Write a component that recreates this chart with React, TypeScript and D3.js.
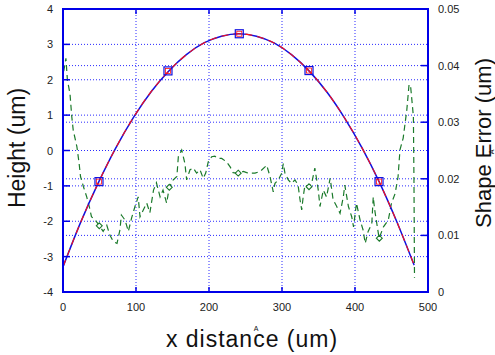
import React, { useEffect, useRef } from 'react';
import * as d3 from 'd3';

// fitted profile (Height, left axis)
const fitX = [0, 24, 48, 72, 97, 121, 145, 169, 193, 217, 241, 265, 289, 313, 338, 362, 386, 410, 433, 457, 481];
const fitY = [-3.29, -2.04, -0.93, 0.06, 0.95, 1.67, 2.25, 2.71, 3.04, 3.23, 3.3, 3.23, 3.04, 2.71, 2.23, 1.64, 0.91, 0.06, -0.88, -2.0, -3.24];
const fitMarkX = [49.3, 143.8, 241.5, 337, 432.9];
const fitMarkY = [-0.88, 2.25, 3.3, 2.26, -0.88];

// shape error (right axis)
const errX = [1, 4, 6, 9.6, 12, 14, 19, 22, 24, 28, 32.5, 36, 39, 44, 50, 55, 60, 64, 69, 74, 78, 80, 85, 89.5, 94, 98.6, 103, 105.5, 110, 114.7, 119, 124, 128, 133, 137, 142, 145.6, 151, 156, 158, 162.6, 167, 169.4, 174, 178.5, 183, 187.7, 192, 195.5, 199, 203.7, 208, 212.7, 217.4, 224, 229, 233, 240, 247, 251.6, 256, 263, 270, 276.7, 279, 283.6, 288, 290.4, 295, 299.6, 301.8, 304, 308.6, 313, 317.8, 322, 324.7, 327, 329, 331.5, 337, 340.7, 345, 349.7, 352, 356.6, 361, 366, 370, 375, 379.5, 384, 386, 391, 395.5, 398, 402, 407, 411, 414, 418, 423, 425, 427, 433, 439, 445.6, 450, 455, 459, 461.6, 466, 471, 474, 476, 480, 480.8, 481.5];
const errY = [0.039, 0.0413, 0.0375, 0.035, 0.031, 0.0286, 0.0257, 0.0228, 0.0204, 0.0186, 0.0168, 0.0151, 0.0133, 0.0127, 0.0117, 0.0107, 0.0118, 0.0101, 0.0089, 0.0086, 0.011, 0.0136, 0.0127, 0.0107, 0.0131, 0.0151, 0.0168, 0.0133, 0.0145, 0.0157, 0.014, 0.018, 0.0193, 0.0168, 0.018, 0.0157, 0.0185, 0.0198, 0.0204, 0.0239, 0.0251, 0.0227, 0.0198, 0.0216, 0.0219, 0.021, 0.0216, 0.0201, 0.021, 0.023, 0.0239, 0.024, 0.0236, 0.0236, 0.023, 0.0221, 0.0211, 0.021, 0.0213, 0.0211, 0.021, 0.021, 0.0213, 0.0221, 0.0224, 0.0204, 0.0177, 0.0192, 0.0198, 0.021, 0.0227, 0.021, 0.0198, 0.0192, 0.0198, 0.0189, 0.0163, 0.0145, 0.0168, 0.0189, 0.0186, 0.0192, 0.0219, 0.018, 0.0151, 0.018, 0.0168, 0.0201, 0.0163, 0.0151, 0.0139, 0.0168, 0.0189, 0.0151, 0.0133, 0.0115, 0.0157, 0.0127, 0.011, 0.0086, 0.0107, 0.0121, 0.0168, 0.0145, 0.0095, 0.0115, 0.0127, 0.0157, 0.0174, 0.0204, 0.0251, 0.0272, 0.0322, 0.0366, 0.0366, 0.031, 0.0192, 0.0025];
const errMarkX = [49.7, 145.6, 240, 337, 433.3];
const errMarkY = [0.0117, 0.0185, 0.021, 0.0186, 0.0095];

const xTicks = [0, 100, 200, 300, 400, 500];
const leftTicks = [4, 3, 2, 1, 0, -1, -2, -3, -4];
const rightTicks = [0, 0.01, 0.02, 0.03, 0.04, 0.05];

export default function App() {
  const svgRef = useRef<SVGSVGElement>(null);

  useEffect(() => {
    if (!svgRef.current) return;
    const svg = d3.select(svgRef.current);
    svg.selectAll('*').remove();

    const left = 63, right = 428, top = 9, bottom = 292;
    const axisBlue = '#0000e8';
    const font = 'Liberation Sans, Arial, sans-serif';

    const x = d3.scaleLinear().domain([0, 500]).range([left, right]);
    const yL = d3.scaleLinear().domain([-4, 4]).range([bottom, top]);
    const yR = d3.scaleLinear().domain([0, 0.05]).range([bottom, top]);

    const g = svg.append('g');

    // Grid lines (dotted)
    const grid = g.append('g').attr('stroke', '#2a2aff').attr('stroke-width', 1).attr('stroke-dasharray', '1,2');
    grid.selectAll('line.v').data(xTicks.slice(1, -1)).enter().append('line')
      .attr('x1', d => x(d)).attr('x2', d => x(d)).attr('y1', top).attr('y2', bottom);
    grid.selectAll('line.hl').data(leftTicks.slice(1, -1)).enter().append('line')
      .attr('x1', left).attr('x2', right).attr('y1', d => yL(d)).attr('y2', d => yL(d));
    grid.selectAll('line.hr').data(rightTicks.slice(1, -1)).enter().append('line')
      .attr('x1', left).attr('x2', right).attr('y1', d => yR(d)).attr('y2', d => yR(d));

    // Shape error (green dashed)
    const errLine = d3.line<number>().x((_, i) => x(errX[i])).y(d => yR(d));
    g.append('path').datum(errY).attr('d', errLine).attr('fill', 'none')
      .attr('stroke', '#1b7a2b').attr('stroke-width', 1.2).attr('stroke-dasharray', '6,4');
    g.selectAll('path.diamond').data(errMarkY).enter().append('path')
      .attr('d', d3.symbol().type(d3.symbolDiamond2).size(22)())
      .attr('transform', (d, i) => `translate(${x(errMarkX[i])},${yR(d)})`)
      .attr('fill', 'white').attr('stroke', '#1b7a2b').attr('stroke-width', 1.1);

    // Fitted height (blue solid + red dashed)
    const fitLine = d3.line<number>().x((_, i) => x(fitX[i])).y(d => yL(d)).curve(d3.curveMonotoneX);
    g.append('path').datum(fitY).attr('d', fitLine).attr('fill', 'none')
      .attr('stroke', '#1010e0').attr('stroke-width', 1.5);
    g.append('path').datum(fitY).attr('d', fitLine).attr('fill', 'none')
      .attr('stroke', '#ff1010').attr('stroke-width', 1.1).attr('stroke-dasharray', '7,5');
    g.selectAll('rect.sq').data(fitMarkY).enter().append('rect')
      .attr('x', (_, i) => x(fitMarkX[i]) - 4).attr('y', d => yL(d) - 4)
      .attr('width', 8).attr('height', 8)
      .attr('fill', 'none').attr('stroke', '#1010e0').attr('stroke-width', 1.2);
    g.selectAll('rect.sqr').data(fitMarkY).enter().append('rect')
      .attr('x', (_, i) => x(fitMarkX[i]) - 2.5).attr('y', d => yL(d) - 2.5)
      .attr('width', 5).attr('height', 5)
      .attr('fill', 'none').attr('stroke', '#ff1010').attr('stroke-width', 0.8);

    // Frame
    g.append('rect').attr('x', left).attr('y', top).attr('width', right - left).attr('height', bottom - top)
      .attr('fill', 'none').attr('stroke', axisBlue).attr('stroke-width', 2);

    // Inward ticks
    const ticks = g.append('g').attr('stroke', axisBlue).attr('stroke-width', 1.5);
    ticks.selectAll('line.l').data(leftTicks).enter().append('line')
      .attr('x1', left).attr('x2', left + 7).attr('y1', d => yL(d)).attr('y2', d => yL(d));
    ticks.selectAll('line.r').data(rightTicks).enter().append('line')
      .attr('x1', right - 7).attr('x2', right).attr('y1', d => yR(d)).attr('y2', d => yR(d));
    ticks.selectAll('line.b').data(xTicks).enter().append('line')
      .attr('x1', d => x(d)).attr('x2', d => x(d)).attr('y1', bottom).attr('y2', bottom - 5);
    ticks.selectAll('line.t').data(xTicks).enter().append('line')
      .attr('x1', d => x(d)).attr('x2', d => x(d)).attr('y1', top).attr('y2', top + 5);

    // Tick labels
    const labels = g.append('g').attr('font-family', font).attr('font-size', 11).attr('fill', '#222');
    labels.selectAll('text.l').data(leftTicks).enter().append('text')
      .attr('x', 53).attr('y', d => yL(d) + 4).attr('text-anchor', 'end').text(d => String(d));
    labels.selectAll('text.r').data(rightTicks).enter().append('text')
      .attr('x', 438).attr('y', d => yR(d) + 4).attr('text-anchor', 'start').text(d => String(d));
    labels.selectAll('text.b').data(xTicks).enter().append('text')
      .attr('x', d => x(d)).attr('y', 311).attr('text-anchor', 'middle').text(d => String(d));

    // Axis titles
    g.append('text').attr('transform', 'translate(25,148) rotate(-90)')
      .attr('text-anchor', 'middle').attr('font-family', font).attr('font-size', 23).attr('fill', '#111')
      .text('Height (um)');
    g.append('text').attr('x', 252).attr('y', 347)
      .attr('text-anchor', 'middle').attr('font-family', font).attr('font-size', 23).attr('fill', '#111')
      .attr('letter-spacing', 1).text('x distance (um)');
    g.append('text').attr('x', 256).attr('y', 331)
      .attr('text-anchor', 'middle').attr('font-family', font).attr('font-size', 7).attr('fill', '#111').text('A');
    g.append('text').attr('transform', 'translate(491,143) rotate(-90)')
      .attr('text-anchor', 'middle').attr('font-family', font).attr('font-size', 22).attr('fill', '#111')
      .text('Shape Error (um)');
    g.append('text').attr('transform', 'translate(494,152) rotate(-90)')
      .attr('text-anchor', 'middle').attr('font-family', font).attr('font-size', 7).attr('fill', '#111').text('A');
  }, []);

  return (
    <svg ref={svgRef} width={495} height={355}
      style={{ position: 'absolute', left: 0, top: 0, background: 'white' }} />
  );
}
